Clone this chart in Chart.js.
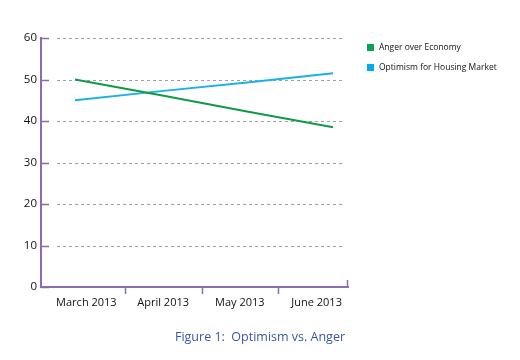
<!DOCTYPE html>
<html>
<head>
<meta charset="utf-8">
<script src="https://cdn.jsdelivr.net/npm/chart.js@4.4.1/dist/chart.umd.min.js"></script>
<style>
  body { margin: 0; background: #fff; }
  #wrap { position: relative; width: 520px; height: 360px; }
  #legend { position: absolute; left: 367px; top: 40px; font-family: "Open Sans", sans-serif; font-size: 8.5px; color: #111; }
  #legend div { height: 20px; line-height: 14px; white-space: nowrap; }
  #legend span { display: inline-block; width: 7px; height: 7px; margin-right: 5px; vertical-align: -0.5px; }
  #caption { position: absolute; left: 0; width: 520px; top: 328px; text-align: center; padding-left: 0px; font-family: "Open Sans", sans-serif; font-size: 12.5px; color: #3a58a3; }
</style>
</head>
<body>
<div id="wrap">
  <canvas id="lineChart" width="520" height="360"></canvas>
  <div id="legend"></div>
  <div id="caption">Figure 1:&nbsp; Optimism vs. Anger</div>
</div>
<script>
var months = ['March 2013', 'April 2013', 'May 2013', 'June 2013'];
var tenSteps = [0, 10, 20, 30, 40, 50, 60];
var seriesNames = ['Anger over Economy', 'Optimism for Housing Market'];
var angerValues = [50, 46.2, 42.3, 38.5];
var optimismValues = [45, 47.2, 49.3, 51.5];
var seriesColors = ['#0f9a48', '#1cb2e0'];
var legendColors = ['#00a651', '#00aeef'];

var axisPurple = '#8c6cb0';
var monthShift = 7;

// vẽ thêm vạch chia và lưới đứt nét
var axisMarks = {
    id: 'axisMarks',
    beforeDatasetsDraw: function (chart) {
        var ctx = chart.ctx;
        var area = chart.chartArea;
        var y = chart.scales.y;
        var x = chart.scales.x;
        ctx.save();
        ctx.strokeStyle = '#a0a0a0';
        ctx.lineWidth = 1;
        ctx.setLineDash([3, 3]);
        tenSteps.forEach(function (v) {
            if (v === 0) return;
            var py = Math.round(y.getPixelForValue(v)) + 0.5;
            ctx.beginPath();
            ctx.moveTo(area.left + 16, py);
            ctx.lineTo(area.right - 5, py);
            ctx.stroke();
        });
        ctx.setLineDash([]);
        ctx.strokeStyle = axisPurple;
        ctx.lineWidth = 1.5;
        tenSteps.forEach(function (v) {
            var py = Math.round(y.getPixelForValue(v)) + 0.5;
            ctx.beginPath();
            ctx.moveTo(area.left, py);
            ctx.lineTo(area.left + 8, py);
            ctx.stroke();
        });
        // vạch chia giữa các tháng
        for (var i = 1; i < months.length; i++) {
            var px = Math.round((x.getPixelForTick(i - 1) + x.getPixelForTick(i)) / 2 + monthShift) + 0.5;
            ctx.beginPath();
            ctx.moveTo(px, area.bottom);
            ctx.lineTo(px, area.bottom + 7);
            ctx.stroke();
        }
        // vạch cuối trục x
        ctx.beginPath();
        ctx.moveTo(area.right - 0.5, area.bottom);
        ctx.lineTo(area.right - 0.5, area.bottom - 7);
        ctx.stroke();
        ctx.restore();
    }
};

var ctx = document.getElementById('lineChart').getContext('2d');
var lineChart = new Chart(ctx, {
    type: 'line',
    data: {
        datasets: [{
            label: seriesNames[0],
            data: angerValues.map(function (v, i) { return { x: i, y: v }; }),
            borderColor: seriesColors[0],
            borderWidth: 2,
            pointRadius: 0,
            xAxisID: 'xData'
        }, {
            label: seriesNames[1],
            data: optimismValues.map(function (v, i) { return { x: i, y: v }; }),
            borderColor: seriesColors[1],
            borderWidth: 2,
            pointRadius: 0,
            xAxisID: 'xData'
        }]
    },
    options: {
        responsive: false,
        animation: false,
        layout: { padding: { left: 0, right: 172, top: 38, bottom: 0 } },
        plugins: { legend: { display: false }, tooltip: { enabled: false } },
        scales: {
            xData: {
                type: 'linear',
                display: false,
                min: -0.395,
                max: 3.174
            },
            x: {
                type: 'category',
                labels: months,
                offset: true,
                position: 'bottom',
                afterFit: function (s) { s.height = 73; },
                grid: { display: false, drawTicks: true, tickLength: 6 },
                border: { display: true, color: axisPurple, width: 2 },
                ticks: { color: '#111', font: { family: 'Open Sans', size: 11 }, padding: 3, maxRotation: 0, labelOffset: monthShift }
            },
            y: {
                min: 0,
                max: 60,
                afterFit: function (s) { s.width = 41; },
                afterBuildTicks: function (s) { s.ticks = tenSteps.map(function (v) { return { value: v }; }); },
                grid: { display: false },
                border: { display: true, color: axisPurple, width: 2 },
                ticks: { color: '#111', font: { family: 'Open Sans', size: 11.5 }, padding: -4 }
            }
        }
    },
    plugins: [axisMarks]
});

// chú thích
var legend = document.getElementById('legend');
seriesNames.forEach(function (name, i) {
    var row = document.createElement('div');
    var box = document.createElement('span');
    box.style.background = legendColors[i];
    row.appendChild(box);
    row.appendChild(document.createTextNode(name));
    legend.appendChild(row);
});
</script>
</body>
</html>
